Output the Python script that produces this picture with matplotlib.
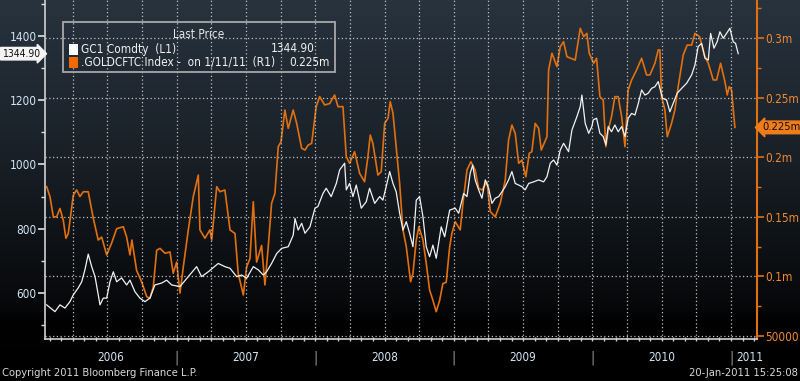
import numpy as np
import matplotlib
matplotlib.use("Agg")
import matplotlib.pyplot as plt
from matplotlib.patches import Rectangle
from matplotlib.ticker import FixedLocator, FuncFormatter

# gold front month (GC1 Comdty), x in decimal years
gold_t = [2006.062, 2006.122, 2006.158, 2006.194, 2006.230, 2006.254, 2006.290, 2006.315, 2006.338, 2006.362,
          2006.387, 2006.411, 2006.447, 2006.470, 2006.495, 2006.519, 2006.543, 2006.567, 2006.603, 2006.639,
          2006.663, 2006.699, 2006.735, 2006.771, 2006.807, 2006.843, 2006.892, 2006.928, 2006.964,
          2007.024, 2007.084, 2007.144, 2007.180, 2007.228, 2007.300, 2007.348, 2007.385, 2007.433, 2007.469,
          2007.505, 2007.553, 2007.589, 2007.625, 2007.649, 2007.685, 2007.722, 2007.758, 2007.805, 2007.841,
          2007.854, 2007.877, 2007.902, 2007.926, 2007.962, 2007.998,
          2008.019, 2008.056, 2008.079, 2008.115, 2008.152, 2008.176, 2008.212, 2008.224, 2008.248, 2008.272,
          2008.296, 2008.332, 2008.368, 2008.392, 2008.429, 2008.465, 2008.488, 2008.512, 2008.537, 2008.561,
          2008.584, 2008.609, 2008.633, 2008.657, 2008.681, 2008.705, 2008.729, 2008.753, 2008.777, 2008.801,
          2008.825, 2008.849, 2008.873, 2008.909, 2008.934, 2008.970,
          2009.010, 2009.035, 2009.071, 2009.095, 2009.118, 2009.136, 2009.154, 2009.179, 2009.203, 2009.227,
          2009.251, 2009.275, 2009.299, 2009.323, 2009.347, 2009.371, 2009.395, 2009.419, 2009.443, 2009.468,
          2009.491, 2009.515, 2009.540, 2009.576, 2009.612, 2009.648, 2009.672, 2009.696, 2009.720, 2009.744,
          2009.768, 2009.792, 2009.828, 2009.852, 2009.888, 2009.912, 2009.924, 2009.948, 2009.973, 2009.996,
          2010.006, 2010.030, 2010.054, 2010.078, 2010.097, 2010.114, 2010.138, 2010.162, 2010.186, 2010.211,
          2010.235, 2010.258, 2010.283, 2010.307, 2010.331, 2010.355, 2010.379, 2010.403, 2010.427, 2010.451,
          2010.475, 2010.487, 2010.506, 2010.535, 2010.559, 2010.583, 2010.612, 2010.644, 2010.680, 2010.716,
          2010.740, 2010.763, 2010.788, 2010.812, 2010.836, 2010.853, 2010.877, 2010.900, 2010.920, 2010.944,
          2010.968, 2010.992, 2011.016, 2011.033, 2011.052]
gold_px = [563, 542, 563, 553, 573, 594, 616, 635, 672, 721,
           682, 651, 563, 584, 584, 635, 666, 635, 647, 625,
           640, 604, 584, 573, 584, 625, 631, 640, 625,
           620, 651, 682, 651, 666, 692, 682, 677, 651, 656,
           646, 682, 672, 656, 666, 692, 723, 739, 744, 780,
           832, 796, 817, 786, 806, 864,
           869, 910, 926, 900, 941, 983, 1004, 921, 941, 900,
           936, 864, 884, 926, 879, 900, 889, 931, 978, 941,
           915, 848, 796, 822, 786, 744, 889, 900, 838, 744,
           713, 749, 708, 806, 775, 858,
           864, 848, 910, 900, 973, 998, 952, 921, 895, 952,
           926, 879, 895, 900, 915, 931, 952, 978, 941, 936,
           931, 921, 941, 946, 952, 946, 962, 1004, 1014, 998,
           1045, 1066, 1040, 1107, 1149, 1180, 1216, 1128, 1097, 1118,
           1139, 1144, 1097, 1087, 1061, 1118, 1102, 1123, 1102, 1118,
           1087, 1144, 1159, 1154, 1190, 1232, 1216, 1222, 1237, 1242,
           1258, 1237, 1206, 1201, 1164, 1190, 1222, 1237, 1253, 1279,
           1310, 1367, 1377, 1331, 1325, 1408, 1362, 1382, 1413, 1393,
           1408, 1424, 1382, 1377, 1345]

# CFTC gold net positions (.GOLDCFTC Index), thousands of contracts
cftc_t = [2006.062, 2006.086, 2006.110, 2006.134, 2006.158, 2006.182, 2006.201, 2006.218, 2006.254, 2006.278,
          2006.302, 2006.326, 2006.362, 2006.398, 2006.434, 2006.459, 2006.495, 2006.531, 2006.567, 2006.615,
          2006.639, 2006.663, 2006.677, 2006.711, 2006.747, 2006.784, 2006.807, 2006.831, 2006.856, 2006.880,
          2006.916, 2006.952, 2006.975, 2007.000,
          2007.024, 2007.048, 2007.084, 2007.120, 2007.156, 2007.168, 2007.204, 2007.240, 2007.253, 2007.289,
          2007.312, 2007.348, 2007.385, 2007.421, 2007.444, 2007.481, 2007.505, 2007.529, 2007.553, 2007.577,
          2007.613, 2007.637, 2007.661, 2007.685, 2007.709, 2007.733, 2007.753, 2007.781, 2007.805, 2007.841,
          2007.866, 2007.902, 2007.926, 2007.949, 2007.974,
          2008.007, 2008.032, 2008.068, 2008.104, 2008.140, 2008.164, 2008.200, 2008.224, 2008.248, 2008.284,
          2008.320, 2008.356, 2008.380, 2008.397, 2008.416, 2008.452, 2008.476, 2008.501, 2008.525, 2008.541,
          2008.561, 2008.584, 2008.609, 2008.633, 2008.657, 2008.688, 2008.705, 2008.729, 2008.748, 2008.777,
          2008.801, 2008.825, 2008.849, 2008.873, 2008.898, 2008.921, 2008.945, 2008.970, 2008.986,
          2009.010, 2009.046, 2009.071, 2009.095, 2009.123, 2009.154, 2009.179, 2009.203, 2009.239, 2009.263,
          2009.299, 2009.335, 2009.371, 2009.395, 2009.419, 2009.443, 2009.468, 2009.491, 2009.520, 2009.544,
          2009.563, 2009.587, 2009.612, 2009.631, 2009.672, 2009.684, 2009.708, 2009.744, 2009.768, 2009.792,
          2009.816, 2009.876, 2009.912, 2009.937, 2009.960, 2009.977, 2010.009,
          2010.030, 2010.054, 2010.078, 2010.097, 2010.114, 2010.138, 2010.162, 2010.186, 2010.211, 2010.235,
          2010.258, 2010.283, 2010.319, 2010.355, 2010.391, 2010.415, 2010.451, 2010.475, 2010.487, 2010.499,
          2010.523, 2010.540, 2010.571, 2010.595, 2010.619, 2010.655, 2010.684, 2010.716, 2010.740, 2010.773,
          2010.812, 2010.836, 2010.872, 2010.896, 2010.925, 2010.956, 2010.973, 2010.987, 2011.004, 2011.028]
cftc_k = [175.3, 166.8, 150.0, 150.0, 157.0, 147.0, 132.0, 136.0, 168.0, 172.5,
          167.0, 171.0, 171.0, 149.0, 130.5, 133.0, 118.0, 128.0, 140.0, 141.7,
          133.0, 118.0, 130.5, 105.0, 95.5, 83.0, 81.6, 91.0, 122.0, 123.5,
          119.4, 120.5, 102.6, 112.0,
          86.0, 108.0, 139.0, 167.0, 185.0, 139.0, 132.0, 139.0, 130.5, 175.3,
          171.0, 172.5, 139.0, 136.0, 102.6, 84.4, 108.0, 115.0, 162.7, 112.0,
          126.0, 92.8, 125.0, 161.3, 169.7, 208.8, 213.0, 239.6, 224.2, 239.6,
          228.4, 207.5, 206.0, 210.2, 211.6,
          242.4, 250.8, 243.8, 245.0, 252.2, 242.4, 242.4, 200.4, 194.9, 204.6,
          186.5, 179.4, 200.4, 218.6, 211.6, 185.0, 187.8, 228.4, 232.6, 246.6,
          236.8, 208.8, 178.0, 139.0, 124.9, 95.5, 102.6, 130.5, 141.7, 130.5,
          111.0, 88.6, 80.0, 70.4, 80.0, 94.0, 95.0, 124.9, 136.0,
          145.9, 139.0, 166.8, 189.3, 196.2, 189.3, 173.9, 172.5, 179.4, 154.3,
          150.0, 161.3, 180.9, 214.4, 227.0, 220.0, 194.9, 197.6, 183.6, 203.3,
          204.6, 228.4, 224.2, 206.0, 217.2, 273.2, 287.2, 276.0, 292.7, 296.9,
          284.3, 281.5, 308.1, 301.1, 303.9, 287.2, 278.8,
          283.0, 250.8, 248.0, 208.8, 222.8, 234.0, 250.8, 250.8, 234.0, 208.8,
          256.4, 264.8, 273.2, 283.0, 269.0, 269.0, 278.8, 290.0, 290.0, 250.8,
          239.6, 217.2, 228.4, 239.6, 259.2, 285.7, 294.1, 294.0, 303.9, 301.1,
          284.3, 278.8, 264.8, 264.8, 278.8, 263.4, 252.2, 259.2, 256.4, 225.0]

years = [2006, 2007, 2008, 2009, 2010, 2011]
left_ticks = [600, 800, 1000, 1200, 1400]
right_ticks = [50000, 100000, 150000, 200000, 250000, 300000]

plt.rcParams['font.family'] = ['DejaVu Sans']
plt.rcParams['font.stretch'] = 'condensed'

W, H = 800, 381
fig = plt.figure(figsize=(W / 100, H / 100), dpi=100)
fig.patch.set_facecolor('black')

# background gradient, bloomberg style
bg = fig.add_axes([0, 0, 1, 1], zorder=-10)
stops = np.array([0.0, 0.35, 0.62, 0.8, 0.84, 1.0])
cols = np.array([[40, 51, 62], [27, 35, 43], [15, 19, 23], [7, 8, 10], [2, 2, 3], [0, 0, 0]]) / 255
yy = np.linspace(0, 1, 381)
grad = np.stack([np.interp(yy, stops, cols[:, i]) for i in range(3)], axis=1)
bg.imshow(grad[:, None, :], aspect='auto', extent=[0, 1, 0, 1])
bg.axis('off')

x0, x1 = 45, 757
ax = fig.add_axes([x0 / W, 1 - 339 / H, (x1 - x0) / W, 339 / H])
ax2 = ax.twinx()
ax.set_zorder(ax2.get_zorder() + 1)
ax.patch.set_visible(False)
ax2.patch.set_visible(False)

orange = '#e2700f'
lab_col = '#d4e6f5'
ax2.plot(np.array(cftc_t), np.array(cftc_k) * 1000, color=orange, lw=1.2)
ax.plot(gold_t, gold_px, color='#f2f2f2', lw=0.9)

ax.set_xlim(2006.05, 2011.1876)
ax.set_ylim(456.8, 1512)
ax2.set_ylim(47483, 331879)

# grid
grid_kw = dict(color='#c0c0c0', lw=0.9, ls=(0, (1, 2)))
for q in np.arange(2006.25, 2011.01, 0.25):
    ax.axvline(q, **grid_kw, zorder=0)
for v in right_ticks:
    ax2.axhline(v, **grid_kw, zorder=0)

# axes styling
ax.spines['top'].set_visible(False)
ax2.spines['top'].set_visible(False)
ax.spines['right'].set_visible(False)
ax2.spines['left'].set_visible(False)
ax2.spines['bottom'].set_visible(False)
ax.spines['left'].set_color('#d0d0d0')
ax.spines['bottom'].set_color('#d0d0d0')
ax.spines['left'].set_linewidth(1.2)
ax.spines['bottom'].set_linewidth(1.2)
ax2.spines['right'].set_color(orange)
ax2.spines['right'].set_linewidth(1.5)

ax.yaxis.set_major_locator(FixedLocator(left_ticks))
ax.yaxis.set_minor_locator(FixedLocator([500, 700, 900, 1100, 1300, 1500]))
ax.tick_params(axis='y', which='major', colors='#e0e0e0', labelcolor=lab_col, labelsize=8.5,
               length=5, width=1.2, pad=1)
ax.tick_params(axis='y', which='minor', colors='#e0e0e0', length=3, width=1)

ax2.yaxis.set_major_locator(FixedLocator(right_ticks))
ax2.yaxis.set_minor_locator(FixedLocator([75000, 125000, 175000, 225000, 275000, 325000]))
ax2.yaxis.set_major_formatter(FuncFormatter(lambda v, p: '%d' % v if v < 100000 else ('%g' % (v / 1e6)) + 'm'))
ax2.tick_params(axis='y', which='major', colors=orange, labelcolor='#f08a30', labelsize=8.5,
                length=5, width=1.2, pad=1)
ax2.tick_params(axis='y', which='minor', colors=orange, length=3, width=1)

# monthly ticks on the date axis, year labels centred in each year span
months = [y + m / 12 for y in range(2006, 2011) for m in range(12)] + [2011.0, 2011 + 1 / 12, 2011 + 2 / 12]
months = [m for m in months if 2006.05 < m < 2011.187]
ax.set_xticks(months)
ax.set_xticklabels([])
ax.tick_params(axis='x', colors='#d0d0d0', direction='inout', length=3, width=1)

lo, hi = ax.get_xlim()
for y in years:
    if y > 2006:
        ax.text(y, -0.055, '|', transform=ax.get_xaxis_transform(),
                ha='center', va='center', color='#9a9a9a', fontsize=10)
    if y + 1 > hi:
        # last, partial year: label starts just after its separator
        ax.text(y + 0.035, -0.055, str(y), transform=ax.get_xaxis_transform(),
                ha='left', va='center', color=lab_col, fontsize=8.5)
    else:
        a, b = max(y, lo), y + 1
        ax.text((a + b) / 2, -0.055, str(y), transform=ax.get_xaxis_transform(),
                ha='center', va='center', color=lab_col, fontsize=8.5)

# last value tags
ax.text(-0.007, 1344.9, '1344.90', transform=ax.get_yaxis_transform(), ha='right', va='center',
        fontsize=7.5, color='#101010',
        bbox=dict(boxstyle='rarrow,pad=0.12', fc='#f4f4f4', ec='#f4f4f4'))
ax2.text(1.007, 225000, '0.225m', transform=ax2.get_yaxis_transform(), ha='left', va='center',
         fontsize=8, color='#101010', clip_on=False,
         bbox=dict(boxstyle='larrow,pad=0.12', fc='#f07c1a', ec='#f07c1a'))

# legend box
def fx(px):
    return px / W

def fy(py):
    return 1 - py / H

fig.patches.append(Rectangle((fx(63), fy(72)), fx(335) - fx(63), (72 - 22) / H,
                             transform=fig.transFigure, fc='none', ec='#a8a8a8', lw=1.3, zorder=5))
fig.text(fx(199), fy(35), 'Last Price', ha='center', va='center', color='#e8e8e8', fontsize=8.5, zorder=6)
fig.patches.append(Rectangle((fx(69), fy(55)), 9 / W, 11 / H, transform=fig.transFigure,
                             fc='white', ec='none', zorder=6))
fig.patches.append(Rectangle((fx(69), fy(68)), 9 / W, 11 / H, transform=fig.transFigure,
                             fc='#f06a00', ec='none', zorder=6))
fig.text(fx(81), fy(49), 'GC1 Comdty  (L1)', ha='left', va='center', color='#f0f0f0', fontsize=8.5, zorder=6)
fig.text(fx(315), fy(49), '1344.90', ha='right', va='center', color='#f0f0f0', fontsize=8.5, zorder=6)
fig.text(fx(81), fy(62), '.GOLDCFTC Index -  on 1/11/11  (R1)', ha='left', va='center',
         color='#f0f0f0', fontsize=8.5, zorder=6)
fig.text(fx(330), fy(62), '0.225m', ha='right', va='center', color='#f0f0f0', fontsize=8.5, zorder=6)

fig.text(fx(2), fy(373), 'Copyright 2011 Bloomberg Finance L.P.', ha='left', va='center',
         color='#d8d8d8', fontsize=8)
fig.text(fx(798), fy(373), '20-Jan-2011 15:25:08', ha='right', va='center',
         color='#d8d8d8', fontsize=8)

fig.savefig('out.png', dpi=100, facecolor=fig.get_facecolor())
